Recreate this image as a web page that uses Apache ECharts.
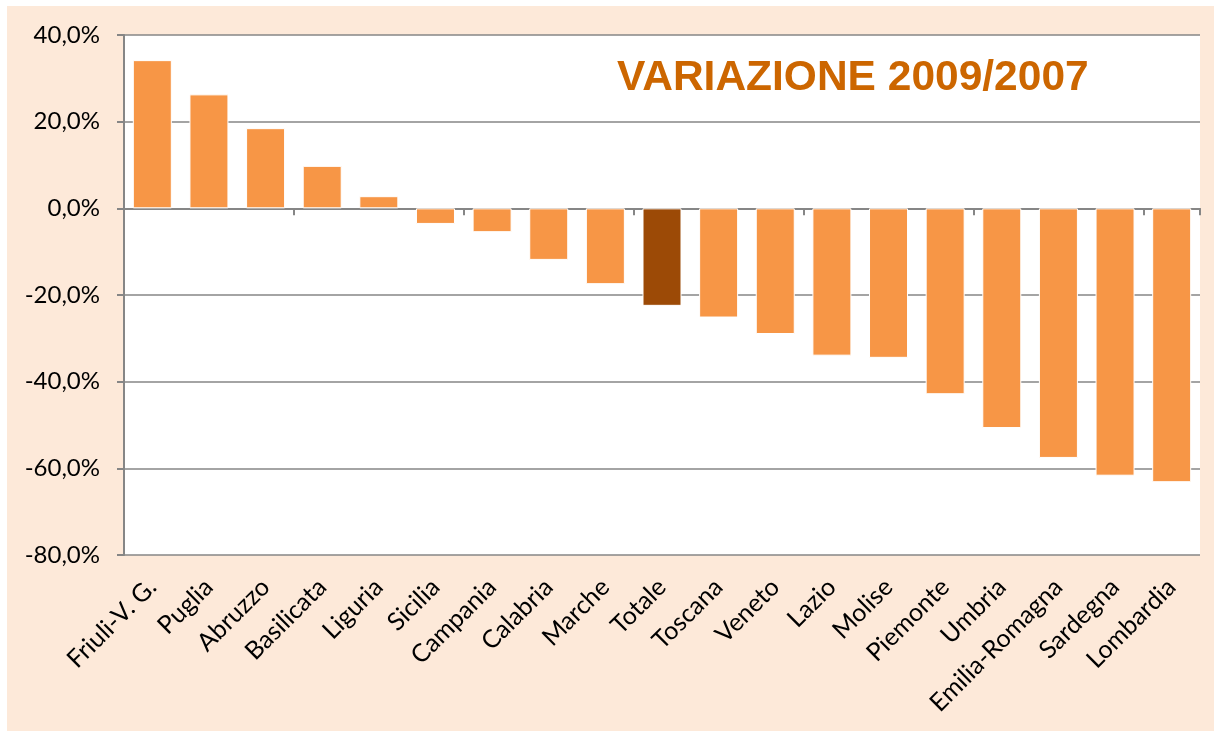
<!DOCTYPE html>
<html>
<head>
<meta charset="utf-8">
<script src="https://cdn.jsdelivr.net/npm/echarts@6/dist/echarts.min.js"></script>
<style>
    html, body { margin: 0; padding: 0; background: #fff; overflow: hidden; }
    #chart { position: absolute; left: 7px; top: 6px; width: 1207px; height: 725px; }
</style>
</head>
<body>
<div id="chart"></div>
<script>
// variazione percentuale 2009/2007 per regione
var regions = ['Friuli-V. G.', 'Puglia', 'Abruzzo', 'Basilicata', 'Liguria', 'Sicilia', 'Campania',
    'Calabria', 'Marche', 'Totale', 'Toscana', 'Veneto', 'Lazio', 'Molise', 'Piemonte', 'Umbria',
    'Emilia-Romagna', 'Sardegna', 'Lombardia'];
var variazione = [34.2, 26.3, 18.5, 9.8, 2.8, -3.6, -5.5, -11.9, -17.5, -22.5, -25.2, -29.0,
    -34.0, -34.5, -42.9, -50.7, -57.6, -61.7, -63.2];
var totaleName = 'Totale';
var yTicks = { min: -80, max: 40, step: 20 };

var gray = '#868686';

var barData = regions.map(function (name, i) {
    var item = { value: variazione[i] };
    if (name === totaleName) {
        item.itemStyle = { color: '#9c4a06' };
    }
    return item;
});

var chart = echarts.init(document.getElementById('chart'));
chart.setOption({
    backgroundColor: '#fde9d9',
    animation: false,
    title: {
        text: 'VARIAZIONE 2009/2007',
        left: 610,
        top: 51,
        padding: 0,
        textStyle: {
            fontFamily: 'Liberation Sans',
            fontWeight: 'bold',
            fontSize: 42.5,
            color: '#cc6600'
        }
    },
    grid: {
        left: 117,
        top: 29,
        right: 14,
        height: 520,
        show: true,
        backgroundColor: '#fff',
        borderWidth: 0
    },
    xAxis: [
        {
            type: 'category',
            data: regions,
            position: 'bottom',
            axisLine: { show: false, onZero: false },
            axisTick: { show: false },
            axisLabel: {
                interval: 0,
                rotate: 45,
                margin: 28,
                fontFamily: 'Lato',
                fontSize: 25,
                color: '#000'
            }
        },
        {
            type: 'category',
            data: regions,
            position: 'top',
            axisLine: { show: true, onZero: true, lineStyle: { color: gray, width: 2 } },
            axisTick: { show: true, inside: true, length: 7, lineStyle: { color: gray, width: 2 } },
            axisLabel: { show: false }
        }
    ],
    yAxis: {
        type: 'value',
        min: yTicks.min,
        max: yTicks.max,
        interval: yTicks.step,
        axisLine: { show: true, lineStyle: { color: gray, width: 2 } },
        axisTick: { show: true, length: 7, lineStyle: { color: gray, width: 2 } },
        splitLine: { show: true, lineStyle: { color: gray, width: 1.5 } },
        axisLabel: {
            margin: 24,
            fontFamily: 'Lato',
            fontSize: 24,
            color: '#000',
            formatter: function (v) {
                return v.toFixed(1).replace('.', ',') + '%';
            }
        }
    },
    series: [
        {
            type: 'bar',
            xAxisIndex: 0,
            data: barData,
            barWidth: 39,
            itemStyle: {
                color: '#f79646',
                borderColor: '#fff',
                borderWidth: 1
            }
        }
    ]
});
</script>
</body>
</html>
